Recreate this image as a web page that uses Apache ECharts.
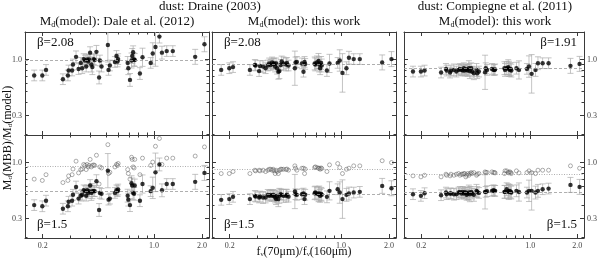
<!DOCTYPE html>
<html><head><meta charset="utf-8">
<script src="https://cdn.jsdelivr.net/npm/echarts@6/dist/echarts.min.js"></script>
<style>html,body{margin:0;padding:0;background:#fff}#c{width:600px;height:259px}</style>
</head><body><div id="c"></div>
<script>
// f_nu(70um)/f_nu(160um) for each galaxy
const xRatio = [0.177,0.199,0.210,0.268,0.288,0.291,0.306,0.310,0.324,0.336,
  0.347,0.354,0.362,0.369,0.375,0.380,0.386,0.391,0.397,0.404,
  0.410,0.418,0.424,0.435,0.452,0.457,0.468,0.513,0.518,0.528,
  0.568,0.581,0.590,0.595,0.683,0.689,0.706,0.722,0.729,0.739,
  0.749,0.756,0.815,0.846,0.952,0.981,1.02,1.08,1.12,1.20,
  1.31,1.81,2.07];
// symmetric error (dex)
const errDex = [0.05,0.05,0.05,0.05,0.05,0.05,0.05,0.05,0.055,0.05,
  0.05,0.05,0.05,0.05,0.05,0.05,0.05,0.05,0.055,0.07,
  0.07,0.05,0.05,0.06,0.06,0.05,0.05,0.16,0.05,0.05,
  0.05,0.05,0.05,0.05,0.06,0.06,0.06,0.07,0.07,0.06,
  0.06,0.06,0.055,0.085,0.05,0.1,0.18,0.06,0.06,0.05,
  0.05,0.07,0.07];
// Draine (2003), Md(model): Dale et al. (2012)
const daleTop = [0.71,0.71,0.80,0.655,0.71,0.79,0.79,0.90,1.06,0.815,
  0.93,0.83,1.01,0.98,0.86,1.0,0.96,1.0,1.16,0.90,
  0.85,1.01,0.99,1.18,0.68,0.98,0.86,1.37,0.80,0.88,
  0.95,1.08,0.96,1.01,0.93,0.83,0.645,0.98,1.08,1.17,
  1.0,0.99,0.74,1.05,0.93,1.14,1.31,1.64,1.16,1.20,
  1.20,1.06,1.39];
const daleBot = [0.40,0.39,0.44,0.37,0.39,0.43,0.44,0.50,0.59,0.46,
  0.49,0.50,0.55,0.54,0.49,0.55,0.52,0.54,0.61,0.52,
  0.54,0.54,0.54,0.67,0.36,0.52,0.51,0.84,0.45,0.46,
  0.52,0.55,0.54,0.56,0.49,0.45,0.40,0.64,0.61,0.52,
  0.51,0.61,0.44,0.63,0.54,0.58,0.81,0.96,0.55,0.63,
  0.63,0.66,0.80];
const daleBotOpen = [0.70,0.68,0.77,0.65,0.68,0.75,0.77,0.87,1.03,0.80,
  0.86,0.87,0.96,0.94,0.86,0.96,0.91,0.94,1.07,0.91,
  0.94,0.95,0.94,1.17,0.63,0.91,0.89,1.47,0.79,0.81,
  0.91,0.96,0.94,0.98,0.86,0.79,0.70,1.12,1.07,0.91,
  0.89,1.07,0.77,1.10,0.94,1.01,1.42,1.68,0.96,1.10,
  1.10,1.15,1.40];
// Draine (2003), Md(model): this work
const thisTop = [0.80,0.83,0.85,0.80,0.89,0.88,0.78,0.87,0.86,0.83,
  0.88,0.92,0.89,0.94,0.91,0.92,0.86,0.92,0.83,0.77,
  0.78,0.89,0.96,0.92,0.90,0.93,0.88,0.83,0.94,0.95,
  0.92,0.77,0.95,0.91,0.92,0.90,0.94,0.97,0.90,0.83,
  0.93,0.88,0.79,0.92,0.93,0.98,0.75,0.83,1.04,1.01,
  1.01,0.94,1.01];
const thisBot = [0.448,0.455,0.478,0.455,0.488,0.481,0.471,0.481,0.471,0.471,
  0.499,0.488,0.499,0.488,0.499,0.488,0.471,0.455,0.488,0.455,
  0.488,0.506,0.499,0.488,0.49,0.50,0.48,0.536,0.506,0.499,
  0.506,0.513,0.455,0.50,0.517,0.524,0.513,0.506,0.513,0.488,
  0.51,0.50,0.478,0.544,0.563,0.524,0.455,0.499,0.513,0.524,
  0.532,0.605,0.575];
const thisBotOpen = [0.789,0.789,0.824,0.789,0.848,0.836,0.848,0.836,0.848,0.824,
  0.848,0.866,0.866,0.848,0.866,0.836,0.789,0.848,0.824,0.789,
  0.848,0.866,0.866,0.866,0.86,0.87,0.85,0.931,0.885,0.848,
  0.885,0.885,0.789,0.87,0.898,0.911,0.898,0.885,0.885,0.866,
  0.89,0.88,0.824,0.951,0.979,0.898,0.789,0.866,0.885,0.931,
  0.931,1.04,1.0];
// Compiegne et al. (2011), Md(model): this work
const compTop = [0.772,0.772,0.789,0.756,0.818,0.789,0.756,0.789,0.80,0.772,
  0.80,0.818,0.80,0.789,0.83,0.789,0.812,0.80,0.789,0.83,
  0.78,0.83,0.772,0.745,0.80,0.745,0.772,0.76,0.83,0.80,
  0.818,0.80,0.80,0.81,0.83,0.80,0.83,0.848,0.82,0.80,
  0.818,0.789,0.83,0.80,0.818,0.86,0.735,0.80,0.924,0.924,
  0.924,0.873,0.911];
const compBot = [0.506,0.488,0.517,0.495,0.524,0.506,0.513,0.513,0.506,0.506,
  0.524,0.532,0.513,0.532,0.513,0.524,0.524,0.499,0.513,0.524,
  0.506,0.532,0.513,0.499,0.544,0.532,0.52,0.532,0.532,0.54,
  0.544,0.551,0.544,0.544,0.532,0.532,0.563,0.54,0.53,0.544,
  0.532,0.524,0.544,0.53,0.524,0.544,0.544,0.524,0.544,0.563,
  0.571,0.618,0.592];
const compBotOpen = [0.751,0.735,0.761,0.735,0.778,0.761,0.751,0.778,0.761,0.778,
  0.789,0.761,0.778,0.778,0.789,0.789,0.735,0.761,0.789,0.761,
  0.789,0.806,0.789,0.806,0.761,0.78,0.79,0.818,0.806,0.81,
  0.818,0.806,0.806,0.80,0.789,0.836,0.836,0.81,0.80,0.82,
  0.806,0.789,0.836,0.80,0.806,0.836,0.806,0.789,0.848,0.848,
  0.848,0.931,0.885];
// reference lines
const dashedLevels = [0.97, 0.905, 0.824, 0.532, 0.499, 0.528];
const dottedLevels = [null, null, null, 0.93, 0.866, 0.778];
const betaText = ['β=2.08','β=2.08','β=1.91','β=1.5','β=1.5','β=1.5'];
const xTickLabels = [0.2, 1.0, 2.0];
const xMajorTicks = [0.2, 1.0, 2.0];
const xMinorTicks = [0.3,0.4,0.5,0.6,0.7,0.8,0.9];
const yTickLabels = [0.3, 1.0];
const yMajorTicks = [0.3, 1.0];
const yMinorTicks = [0.2,0.4,0.5,0.6,0.7,0.8,0.9];

const L = Math.log10;
const X_MIN = 0.155, X_MAX = 2.21, Y_MIN = 0.197, Y_MAX = 1.81;
const SERIF = '"Liberation Serif", "DejaVu Serif", serif';
const FRAME = '#3a3a3a';

const cols = [{left:25,width:184},{left:212,width:184},{left:404,width:183}];
const rows = [{top:32,height:103},{top:135,height:103}];
const filledSets = [daleTop, thisTop, compTop, daleBot, thisBot, compBot];
const openSets = [null, null, null, daleBotOpen, thisBotOpen, compBotOpen];

const grids = [], xAxes = [], yAxes = [], series = [];
const fmt = v => Math.pow(10, v).toFixed(1);

for (let p = 0; p < 6; p++) {
  const r = Math.floor(p / 3), c = p % 3;
  grids.push({left: cols[c].left, top: rows[r].top, width: cols[c].width, height: rows[r].height});
  const xBase = {gridIndex: p, type: 'value', min: L(X_MIN), max: L(X_MAX), splitLine: {show: false}};
  const yBase = {gridIndex: p, type: 'value', min: L(Y_MIN), max: L(Y_MAX), splitLine: {show: false}};
  ['bottom','top'].forEach(pos => {
    xAxes.push(Object.assign({}, xBase, {position: pos,
      axisLine: {show: true, onZero: false, lineStyle: {color: FRAME, width: 1}},
      axisTick: {show: true, inside: true, length: 4, customValues: xMajorTicks.map(L), lineStyle: {color: FRAME}},
      axisLabel: {show: pos === 'bottom' && r === 1, customValues: xTickLabels.map(L), formatter: fmt,
        fontSize: 8, color: '#444', margin: 4, fontFamily: SERIF}}));
    xAxes.push(Object.assign({}, xBase, {position: pos,
      axisLine: {show: false, onZero: false},
      axisTick: {show: true, inside: true, length: 2.5, customValues: xMinorTicks.map(L), lineStyle: {color: FRAME}},
      axisLabel: {show: false}}));
  });
  ['left','right'].forEach(pos => {
    const showLab = (pos === 'left' && c === 0) || (pos === 'right' && c === 2);
    yAxes.push(Object.assign({}, yBase, {position: pos,
      axisLine: {show: true, onZero: false, lineStyle: {color: FRAME, width: 1}},
      axisTick: {show: true, inside: true, length: 4, customValues: yMajorTicks.map(L), lineStyle: {color: FRAME}},
      axisLabel: {show: showLab, customValues: yTickLabels.map(L), formatter: fmt,
        fontSize: 8, color: '#444', margin: 3, fontFamily: SERIF}}));
    yAxes.push(Object.assign({}, yBase, {position: pos,
      axisLine: {show: false, onZero: false},
      axisTick: {show: true, inside: true, length: 2.5, customValues: yMinorTicks.map(L), lineStyle: {color: FRAME}},
      axisLabel: {show: false}}));
  });
  const xi = p * 4, yi = p * 4;
  const ys = filledSets[p];
  // error bars
  series.push({type: 'custom', xAxisIndex: xi, yAxisIndex: yi, silent: true, clip: true, z: 1,
    data: xRatio.map((xv, k) => [L(xv), L(ys[k]) - errDex[k], L(ys[k]) + errDex[k]]),
    renderItem: (params, api) => {
      const a = api.coord([api.value(0), api.value(1)]);
      const b = api.coord([api.value(0), api.value(2)]);
      const w = 3, st = {stroke: '#ababab', lineWidth: 0.7};
      return {type: 'group', children: [
        {type: 'line', shape: {x1: a[0], y1: a[1], x2: b[0], y2: b[1]}, style: st},
        {type: 'line', shape: {x1: a[0]-w, y1: a[1], x2: a[0]+w, y2: a[1]}, style: st},
        {type: 'line', shape: {x1: b[0]-w, y1: b[1], x2: b[0]+w, y2: b[1]}, style: st}
      ]};
    }});
  const mlData = [{yAxis: L(dashedLevels[p]), lineStyle: {type: [3, 2], color: '#9a9a9a', width: 0.8}}];
  if (dottedLevels[p] !== null) mlData.push({yAxis: L(dottedLevels[p]), lineStyle: {type: [1, 1.5], color: '#9a9a9a', width: 0.8}});
  series.push({type: 'scatter', xAxisIndex: xi, yAxisIndex: yi, z: 3, symbolSize: 4.4,
    itemStyle: {color: '#000'},
    data: xRatio.map((xv, k) => [L(xv), L(ys[k])]),
    markLine: {silent: true, symbol: 'none', label: {show: false}, data: mlData}});
  if (openSets[p]) {
    const os = openSets[p];
    series.push({type: 'scatter', xAxisIndex: xi, yAxisIndex: yi, z: 2, symbol: 'circle', symbolSize: 4,
      itemStyle: {color: 'rgba(255,255,255,0)', borderColor: '#555', borderWidth: 0.6},
      data: xRatio.map((xv, k) => [L(xv), L(os[k])])});
  }
}

const txt = (x, y, text, size, align, extra) => Object.assign({type: 'text', x: x, y: y, silent: true,
  style: {text: text, fill: '#111', font: size + 'px ' + SERIF, align: align || 'center', verticalAlign: 'middle',
    rich: {n: {fontSize: size, fontFamily: SERIF, fill: '#111'},
           s: {fontSize: Math.round(size * 0.62), fontFamily: SERIF, fill: '#111', padding: [Math.round(size*0.45),0,0,0]}}}}, extra || {});

const graphics = [
  txt(210, 7, 'dust: Draine (2003)', 13),
  txt(495, 7, 'dust: Compiegne et al. (2011)', 13),
  txt(117, 22, '{n|M}{s|d}{n|(model): Dale et al. (2012)}', 13),
  txt(304, 22, '{n|M}{s|d}{n|(model): this work}', 13),
  txt(495, 22, '{n|M}{s|d}{n|(model): this work}', 13),
  txt(37, 43, betaText[0], 13, 'left'),
  txt(224, 43, betaText[1], 13, 'left'),
  txt(577, 43, betaText[2], 13, 'right'),
  txt(37, 225, betaText[3], 13, 'left'),
  txt(224, 225, betaText[4], 13, 'left'),
  txt(577, 225, betaText[5], 13, 'right'),
  txt(304, 252, '{n|f}{s|ν}{n|(70μm)/f}{s|ν}{n|(160μm)}', 12),
  txt(8, 138, '{n|M}{s|d}{n|(MBB)/M}{s|d}{n|(model)}', 12, 'center', {rotation: Math.PI / 2})
];

const chart = echarts.init(document.getElementById('c'), null, {renderer: 'canvas'});
chart.setOption({animation: false, backgroundColor: '#fff', grid: grids, xAxis: xAxes, yAxis: yAxes, series: series, graphic: graphics});
</script></body></html>
